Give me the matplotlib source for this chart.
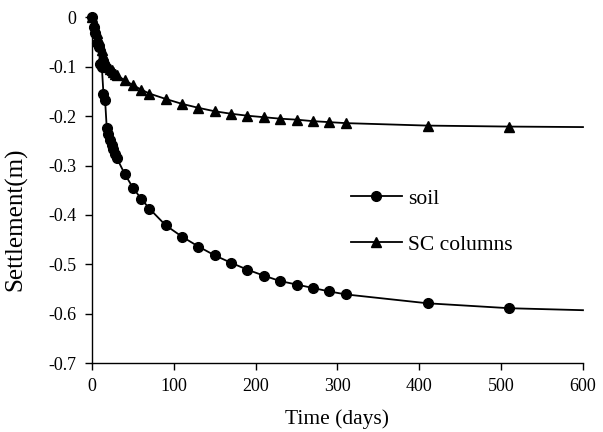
import matplotlib
matplotlib.use("Agg")
import matplotlib.pyplot as plt

plt.rcParams['font.family'] = ['Liberation Serif', 'DejaVu Serif']

soil_t = [0, 2, 4, 6, 8, 10, 12, 14, 16, 18, 20, 22, 24, 26, 28, 30, 40, 50, 60, 70,
          90, 110, 130, 150, 170, 190, 210, 230, 250, 270, 290, 310, 410, 510, 600]
soil_s = [0, -0.02, -0.032, -0.052, -0.06, -0.095, -0.1, -0.155, -0.168, -0.224, -0.237,
          -0.248, -0.258, -0.267, -0.276, -0.284, -0.317, -0.345, -0.367, -0.387,
          -0.421, -0.444, -0.464, -0.482, -0.497, -0.511, -0.523, -0.534, -0.541,
          -0.548, -0.555, -0.561, -0.579, -0.589, -0.593]

sc_t = soil_t
sc_s = [0, -0.012, -0.022, -0.032, -0.045, -0.056, -0.066, -0.076, -0.086, -0.096, -0.1,
        -0.104, -0.107, -0.11, -0.114, -0.117, -0.127, -0.137, -0.146, -0.154,
        -0.165, -0.175, -0.183, -0.19, -0.195, -0.199, -0.202, -0.205, -0.207,
        -0.21, -0.212, -0.214, -0.219, -0.221, -0.222]

fig = plt.figure(figsize=(6.03, 4.32), dpi=100)
ax = fig.add_axes([0.1526, 0.1597, 0.8142, 0.7998])

mk = list(range(len(soil_t) - 1))
ax.plot(soil_t, soil_s, color='black', lw=1.3, marker='o', ms=7, markevery=mk,
        label='soil', clip_on=False)
ax.plot(sc_t, sc_s, color='black', lw=1.3, marker='^', ms=7.5, markevery=mk,
        label='SC columns', clip_on=False)

ax.set_xlim(0, 600)
ax.set_ylim(-0.7, 0)
ax.set_xticks([0, 100, 200, 300, 400, 500, 600])
ax.set_yticks([0, -0.1, -0.2, -0.3, -0.4, -0.5, -0.6, -0.7])
ax.set_yticklabels(['0', '-0.1', '-0.2', '-0.3', '-0.4', '-0.5', '-0.6', '-0.7'])
ax.spines['top'].set_visible(False)
ax.spines['right'].set_visible(False)
for sp in ['left', 'bottom']:
    ax.spines[sp].set_linewidth(1.0)
ax.tick_params(direction='out', length=5, width=1.0, labelsize=13, pad=6)
ax.set_xlabel('Time (days)', fontsize=15.5, labelpad=10)
ax.set_ylabel('Settlement(m)', fontsize=18)
ax.yaxis.set_label_coords(-0.132, 0.417)

ax.legend(loc='upper left', bbox_to_anchor=(0.488, 0.56), frameon=False, fontsize=15.5,
          handlelength=2.37, labelspacing=1.2, handletextpad=0.3)

fig.savefig('out.png', dpi=100)
